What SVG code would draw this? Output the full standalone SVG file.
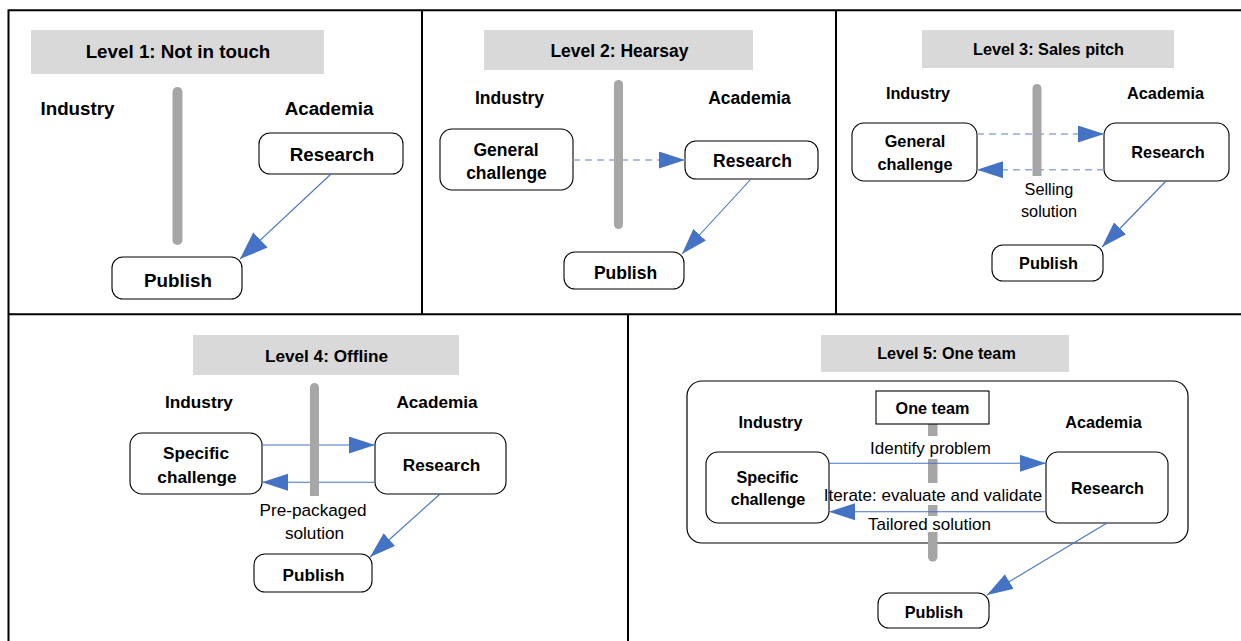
<svg xmlns="http://www.w3.org/2000/svg" width="1241" height="641" viewBox="0 0 1241 641">
<style>
.frame{stroke:#000;stroke-width:2;fill:none}
.title{fill:#d9d9d9}
.box{fill:#fff;stroke:#000;stroke-width:1.1}
.bar{fill:#a6a6a6}
.b{font-family:"Liberation Sans",Arial,sans-serif;font-weight:bold;fill:#000;text-anchor:middle}
.r{font-family:"Liberation Sans",Arial,sans-serif;fill:#000;text-anchor:middle}
.p1{font-size:18.8px}
.p2{font-size:17.5px}
.p3{font-size:16.3px}
.p4{font-size:17.2px}
.p5{font-size:16.2px}
.ln{stroke:#4472c4;stroke-width:1.1;fill:none}
.dl{stroke:#8faadc;stroke-width:1.5;stroke-dasharray:7 5;fill:none}
</style>
<defs>
<marker id="ah" markerUnits="userSpaceOnUse" markerWidth="28" markerHeight="18" refX="26" refY="8.5" orient="auto"><path d="M0,0 L26,8.5 L0,17 z" fill="#4472c4"/></marker>
<marker id="ahL" markerUnits="userSpaceOnUse" markerWidth="30" markerHeight="22" refX="28" refY="10.5" orient="auto"><path d="M0,0 L28,10.5 L0,21 z" fill="#4472c4"/></marker>
</defs>
<rect width="1241" height="641" fill="#fff"/>
<g id="frames">
<path class="frame" d="M8.5,641 V10.3 H1241 M422,10.3 V314.3 M836,10.3 V314.3 M8.5,314.3 H1241 M628,314.3 V641"/>
</g>

<!-- Panel 1 -->
<g id="p1-title"><rect class="title" x="31" y="30" width="293" height="44"/><text class="b p1" x="178" y="58">Level 1: Not in touch</text></g>
<g id="p1-industry"><text class="b p1" x="77.5" y="115">Industry</text></g>
<g id="p1-academia"><text class="b p1" x="329" y="115">Academia</text></g>
<g id="p1-divider"><path class="bar" d="M172.5,92 A5,5 0 0 1 182.5,92 V240 A5,5 0 0 1 172.5,240 Z"/></g>
<g id="p1-research"><rect class="box" x="259" y="133" width="144" height="41" rx="11"/><text class="b p1" x="332" y="161">Research</text></g>
<g id="p1-publish"><rect class="box" x="112" y="257" width="130" height="42" rx="11"/><text class="b p1" x="178" y="287">Publish</text></g>

<!-- Panel 2 -->
<g id="p2-title"><rect class="title" x="484" y="30" width="269" height="40"/><text class="b p2" x="619.5" y="57">Level 2: Hearsay</text></g>
<g id="p2-industry"><text class="b p2" x="509.5" y="104">Industry</text></g>
<g id="p2-academia"><text class="b p2" x="749.5" y="104">Academia</text></g>
<g id="p2-general"><rect class="box" x="440" y="129" width="133" height="61" rx="12"/><text class="b p2" x="506" y="156">General</text><text class="b p2" x="506.5" y="178.5">challenge</text></g>
<g id="p2-research"><rect class="box" x="685" y="141" width="133" height="38" rx="11"/><text class="b p2" x="752.5" y="167">Research</text></g>
<g id="p2-publish"><rect class="box" x="564" y="252" width="120" height="37" rx="11"/><text class="b p2" x="625.5" y="279">Publish</text></g>

<!-- Panel 3 -->
<g id="p3-title"><rect class="title" x="922" y="30" width="252" height="38"/><text class="b p3" x="1048.5" y="55">Level 3: Sales pitch</text></g>
<g id="p3-industry"><text class="b p3" x="918" y="98.7">Industry</text></g>
<g id="p3-academia"><text class="b p3" x="1165.5" y="98.7">Academia</text></g>
<g id="p3-general"><rect class="box" x="852" y="123" width="125" height="58" rx="12"/><text class="b p3" x="915" y="146.7">General</text><text class="b p3" x="915" y="170">challenge</text></g>
<g id="p3-research"><rect class="box" x="1104" y="123" width="125" height="58" rx="12"/><text class="b p3" x="1168" y="158">Research</text></g>
<g id="p3-publish"><rect class="box" x="992" y="245" width="111" height="36" rx="11"/><text class="b p3" x="1048.5" y="269">Publish</text></g>
<g id="p3-label"><text class="r p3" x="1049" y="195">Selling</text><text class="r p3" x="1049" y="216.7">solution</text></g>

<!-- Panel 4 -->
<g id="p4-title"><rect class="title" x="193" y="335" width="266" height="40"/><text class="b p4" x="326.5" y="361.7">Level 4: Offline</text></g>
<g id="p4-industry"><text class="b p4" x="199" y="408.3">Industry</text></g>
<g id="p4-academia"><text class="b p4" x="437" y="408.3">Academia</text></g>
<g id="p4-specific"><rect class="box" x="130" y="433" width="132" height="61" rx="12"/><text class="b p4" x="196" y="459">Specific</text><text class="b p4" x="197" y="482.7">challenge</text></g>
<g id="p4-research"><rect class="box" x="375" y="433" width="131" height="61" rx="12"/><text class="b p4" x="441.5" y="471">Research</text></g>
<g id="p4-publish"><rect class="box" x="254" y="554" width="118" height="38" rx="11"/><text class="b p4" x="313.5" y="580.7">Publish</text></g>
<g id="p4-label"><text class="r p4" x="313" y="516">Pre-packaged</text><text class="r p4" x="314.5" y="539">solution</text></g>

<!-- Panel 5 -->
<g id="p5-title"><rect class="title" x="821" y="335" width="248" height="37"/><text class="b p5" x="946.5" y="359">Level 5: One team</text></g>
<g id="p5-container"><rect x="687" y="381" width="501" height="162" rx="15" fill="none" stroke="#000" stroke-width="1.2"/></g>
<g id="p5-divider"><path class="bar" d="M928,424 H937.5 V557 A4.75,4.75 0 0 1 928,557 Z"/>
<rect x="926" y="436" width="14" height="23" fill="#fff"/>
<rect x="926" y="483" width="14" height="22" fill="#fff"/>
<rect x="926" y="516" width="14" height="16" fill="#fff"/></g>
<g id="p5-oneteam"><rect x="876" y="391" width="113" height="33" fill="#fff" stroke="#000" stroke-width="1.1"/><text class="b p5" x="932.5" y="413.7">One team</text></g>
<g id="p5-industry"><text class="b p5" x="770.5" y="428.3">Industry</text></g>
<g id="p5-academia"><text class="b p5" x="1103.5" y="428.3">Academia</text></g>
<g id="p5-specific"><rect class="box" x="706" y="452" width="123" height="71" rx="12"/><text class="b p5" x="767.5" y="482.7">Specific</text><text class="b p5" x="768" y="505">challenge</text></g>
<g id="p5-research"><rect class="box" x="1046" y="452" width="122" height="71" rx="12"/><text class="b p5" x="1107.5" y="494">Research</text></g>
<g id="p5-publish"><rect class="box" x="878" y="593" width="111" height="35" rx="11"/><text class="b p5" x="934" y="618">Publish</text></g>

<!-- Connectors -->
<g id="connectors">
<line class="ln" x1="331" y1="174" x2="240" y2="259" marker-end="url(#ahL)"/>
<line class="dl" x1="573" y1="160" x2="685" y2="160" marker-end="url(#ah)"/>
<line class="ln" x1="751" y1="179" x2="682" y2="254" marker-end="url(#ah)"/>
<line class="dl" x1="977" y1="134" x2="1104" y2="134" marker-end="url(#ah)"/>
<line class="dl" x1="1104" y1="169.7" x2="977" y2="169.7" marker-end="url(#ah)"/>
<line class="ln" x1="1166" y1="181" x2="1102" y2="247" marker-end="url(#ah)"/>
<line class="ln" x1="262" y1="445" x2="375" y2="445" marker-end="url(#ah)"/>
<line class="ln" x1="375" y1="482.3" x2="262" y2="482.3" marker-end="url(#ah)"/>
<line class="ln" x1="440" y1="494" x2="370" y2="557" marker-end="url(#ah)"/>
<line class="ln" x1="829" y1="463.3" x2="1046" y2="463.3" marker-end="url(#ah)"/>
<line class="ln" x1="1046" y1="511.7" x2="829" y2="511.7" marker-end="url(#ah)"/>
<line class="ln" x1="1107" y1="523" x2="987" y2="595" marker-end="url(#ah)"/>
</g>

<!-- Dividers drawn over connectors -->
<g id="dividers">
<path class="bar" d="M614,84.5 A4.5,4.5 0 0 1 623,84.5 V224.5 A4.5,4.5 0 0 1 614,224.5 Z"/>
<path class="bar" d="M1032.5,176 V88.5 A4.5,4.5 0 0 1 1041.5,88.5 V176 Z"/>
<path class="bar" d="M310,496 V387.5 A4.5,4.5 0 0 1 319,387.5 V496 Z"/>
</g>

<!-- Panel 5 labels on top -->
<g id="p5-labels">
<text class="r" style="font-size:17px" x="930.5" y="454">Identify problem</text>
<text class="r" style="font-size:17px" x="933" y="501">Iterate: evaluate and validate</text>
<text class="r" style="font-size:17px" x="929.5" y="530">Tailored solution</text>
</g>
</svg>
